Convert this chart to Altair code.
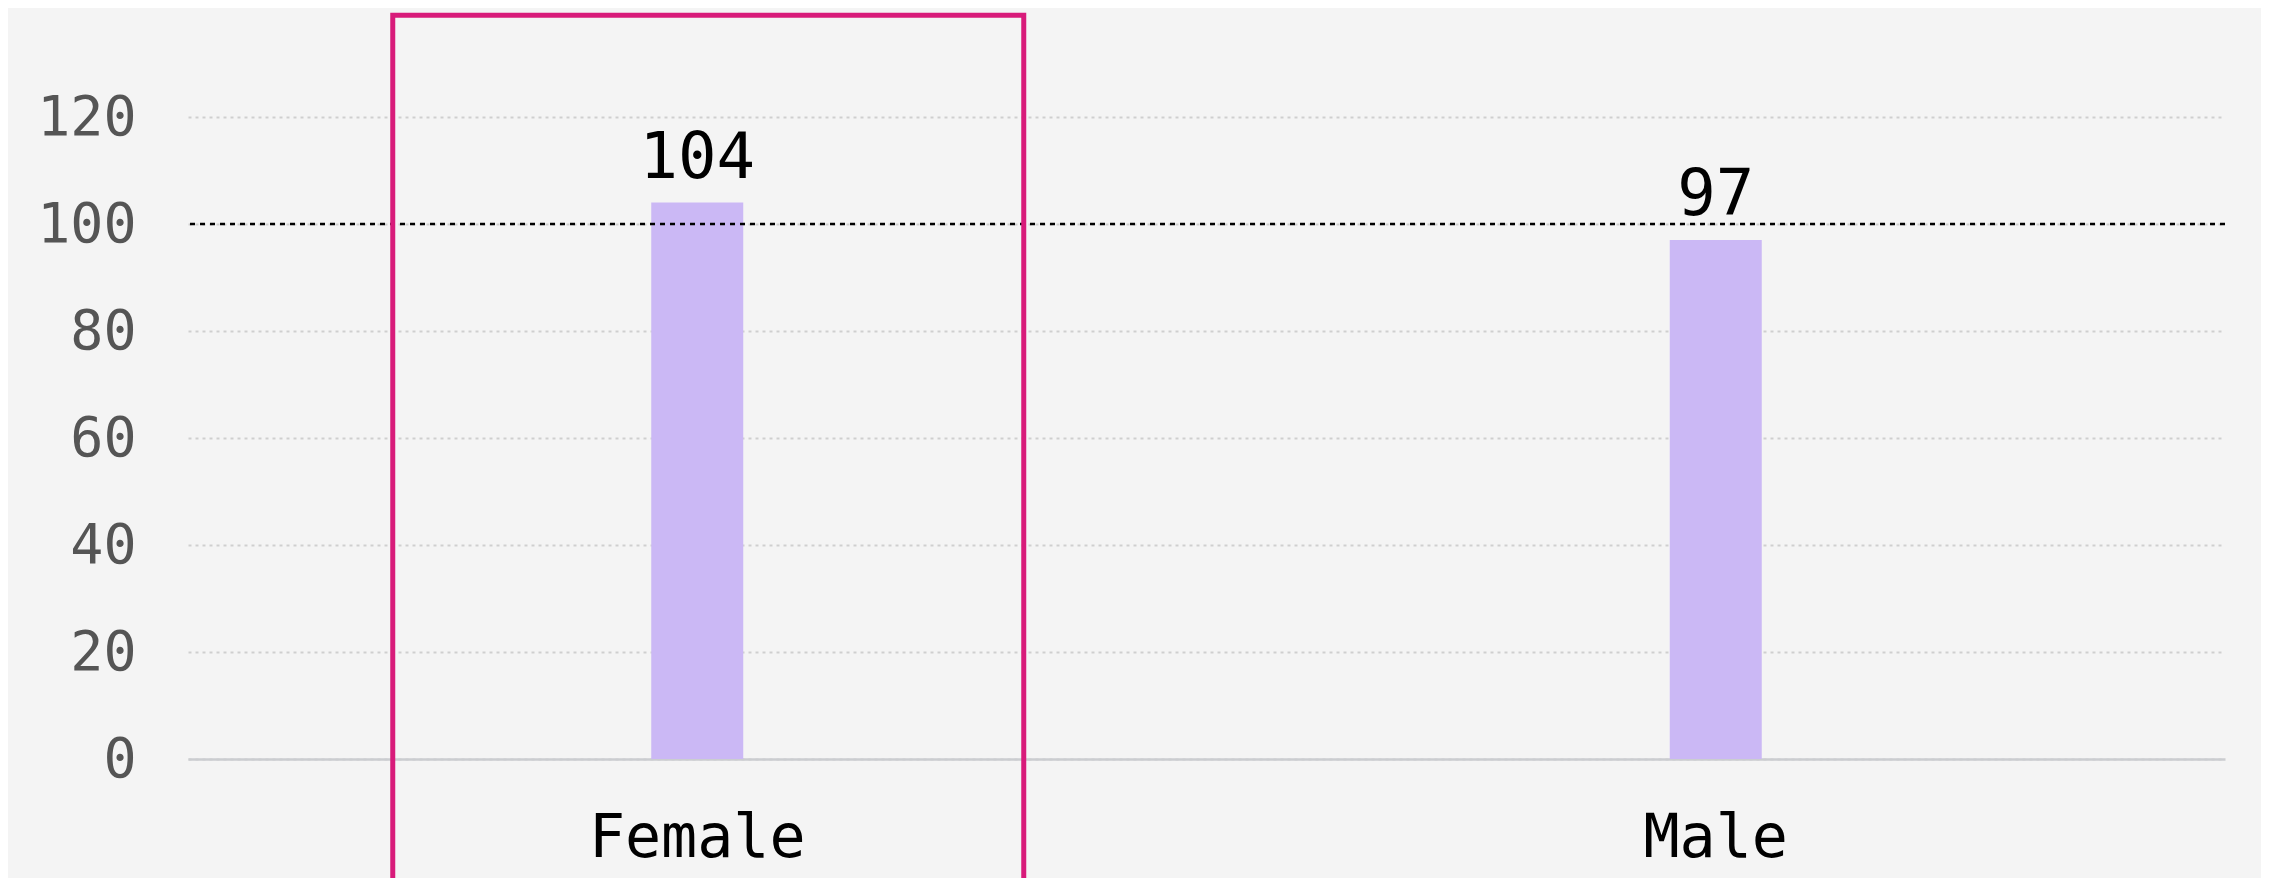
import altair as alt
import pandas as pd

# ---- data ----
categories = ["Female", "Male"]
values = [104, 97]
reference_value = 100
highlight_category = ["Female"]
highlight_top = [139]
highlight_bottom = [-26]
y_ticks = [0, 20, 40, 60, 80, 100, 120]

FONT = "DejaVu Sans Mono"
BG = "#f4f4f4"
BAR = "#cbb8f5"
PINK = "#d81b7a"

df = pd.DataFrame({"sex": categories, "value": values})
ref_df = pd.DataFrame({"ref": [reference_value]})
hl_df = pd.DataFrame({"sex": highlight_category, "top": highlight_top, "bottom": highlight_bottom})

x_enc = alt.X(
    "sex:N",
    sort=categories,
    title=None,
    scale=alt.Scale(paddingInner=0, paddingOuter=0),
    axis=alt.Axis(
        labelAngle=0,
        labelFont=FONT,
        labelFontSize=60,
        labelColor="#000000",
        labelPadding=50,
        labelLimit=0,
        ticks=False,
        tickSize=0,
        domain=True,
        domainColor="#cbcdd0",
        domainWidth=2.5,
        grid=False,
    ),
)

y_scale = alt.Scale(domain=[0, 140], nice=False)

bars = alt.Chart(df).mark_bar(size=92, color=BAR).encode(
    x=x_enc,
    y=alt.Y(
        "value:Q",
        scale=y_scale,
        title=None,
        axis=alt.Axis(
            values=y_ticks,
            labelFont=FONT,
            labelFontSize=55,
            labelColor="#555555",
            labelPadding=52,
            labelLimit=0,
            ticks=False,
            tickSize=0,
            domain=False,
            grid=True,
            gridColor="#cfcfcf",
            gridWidth=2,
            gridDash=[3, 4],
        ),
    ),
)

labels = alt.Chart(df).mark_text(
    font=FONT, fontSize=64, color="#000000", baseline="alphabetic", dy=-25
).encode(
    x=alt.X("sex:N", sort=categories),
    y=alt.Y("value:Q", scale=y_scale),
    text=alt.Text("value:Q"),
)

ref_rule = alt.Chart(ref_df).mark_rule(
    color="#000000", strokeWidth=2.5, strokeDash=[5, 5]
).encode(y=alt.Y("ref:Q", scale=y_scale))

highlight = alt.Chart(hl_df).mark_bar(
    filled=False, color=PINK, strokeWidth=5, width=631, xOffset=11
).encode(
    x=alt.X("sex:N", sort=categories),
    y=alt.Y("top:Q", scale=y_scale),
    y2="bottom:Q",
)

chart = (
    alt.layer(bars, ref_rule, labels, highlight)
    .properties(
        width=2037,
        height=749,
        background=BG,
        padding={"left": 180, "top": 2, "right": 36, "bottom": 119},
        autosize=alt.AutoSizeParams(type="none"),
    )
    .configure_view(stroke=None)
)

chart.save("out.html", embed_options={"renderer": "svg", "actions": False})
